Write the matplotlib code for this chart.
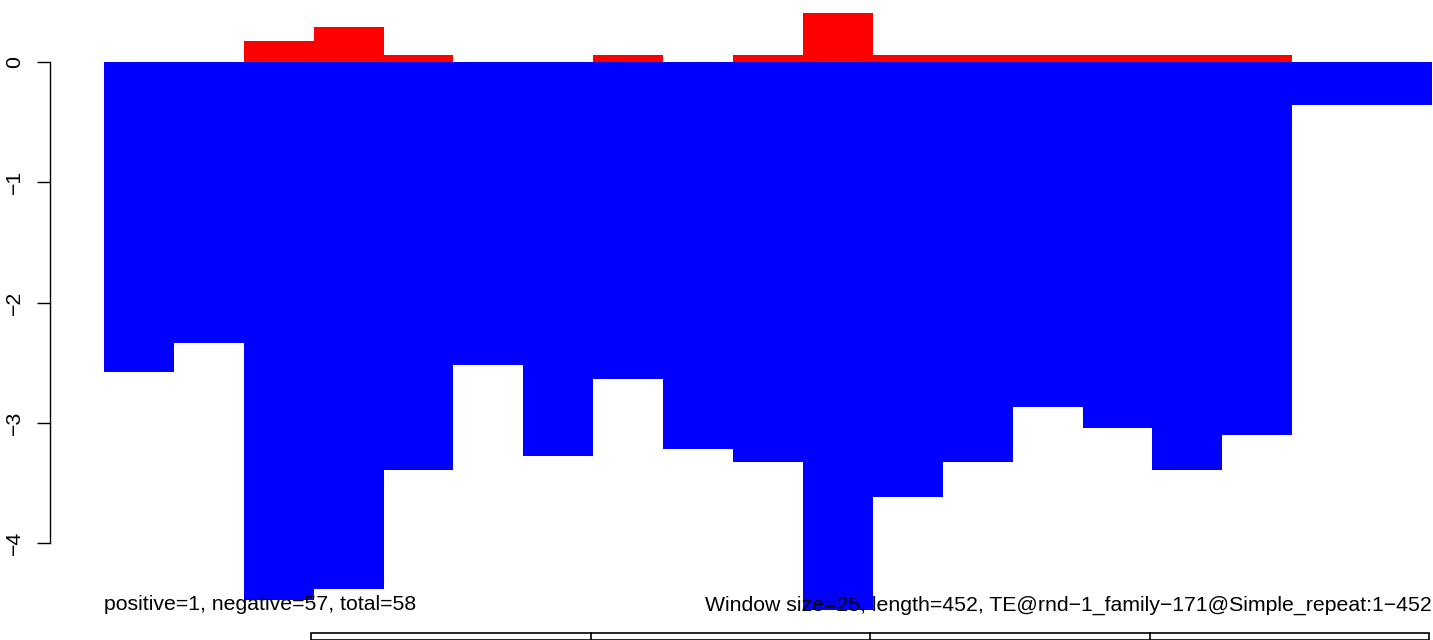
import matplotlib
matplotlib.use("Agg")
import matplotlib.pyplot as plt
from matplotlib.patches import Rectangle
from matplotlib.lines import Line2D

plt.rcParams['font.family'] = ['Liberation Sans', 'DejaVu Sans']

# window scores (one bar per window of 25 bp)
pos_values = [0, 0, 0.175, 0.29, 0.058, 0, 0, 0.058, 0, 0.058, 0.41,
              0.058, 0.058, 0.058, 0.058, 0.058, 0.058, 0, 0]
neg_values = [-2.58, -2.34, -4.47, -4.38, -3.39, -2.52, -3.28, -2.64, -3.22,
              -3.33, -4.56, -3.62, -3.33, -2.87, -3.04, -3.39, -3.10, -0.36, -0.36]
y_ticks = [0, -1, -2, -3, -4]
left_note = "positive=1, negative=57, total=58"
right_note = "Window size=25, length=452, TE@rnd\u22121_family\u2212171@Simple_repeat:1\u2212452"
# feature blocks in the strip below (fraction of the strip)
box_edges = [0, 0.25, 0.5, 0.75, 1.0]

W, H = 1433, 640
FS = 15.3
fig = plt.figure(figsize=(W / 100, H / 100), dpi=100)

# axes placed so that y=0 sits at 62 px and y=-4 at 543 px
px_per_unit = (543 - 62) / 4
ax = fig.add_axes([104 / W, 0, (1432 - 104) / W, 1])
ax.set_ylim(-(H - 62) / px_per_unit, 62 / px_per_unit)
ax.set_xlim(0, len(neg_values))

xs = list(range(len(neg_values)))
ax.bar(xs, pos_values, width=1, align='edge', color='#ff0000', linewidth=0, clip_on=False)
ax.bar(xs, neg_values, width=1, align='edge', color='#0000ff', linewidth=0, clip_on=False)

for s in ['top', 'right', 'bottom']:
    ax.spines[s].set_visible(False)
ax.spines['left'].set_position(('axes', (50 - 104) / (1432 - 104)))
ax.spines['left'].set_bounds(-4, 0)
ax.spines['left'].set_linewidth(1.0)
ax.set_xticks([])
ax.set_yticks(y_ticks)
ax.set_yticklabels([str(t).replace('-', '\u2212') for t in y_ticks],
                   rotation=90, va='center', fontsize=FS)
ax.tick_params(axis='y', length=9.5, width=1.0, pad=9)

fig.text(104 / W, 1 - 605 / H, left_note, ha='left', va='center', fontsize=FS, zorder=5)
fig.text(1432 / W, 1 - 605 / H, right_note, ha='right', va='center', fontsize=FS, zorder=5)

# strip at the bottom
bx0, bx1, by = 311, 1429, 633
fig.add_artist(Rectangle((bx0 / W, 0), (bx1 - bx0) / W, (H - by) / H, transform=fig.transFigure,
                         fill=False, edgecolor='black', linewidth=1.2))
for e in box_edges[1:-1]:
    xe = (bx0 + e * (bx1 - bx0)) / W
    fig.add_artist(Line2D([xe, xe], [0, (H - by) / H], transform=fig.transFigure,
                          color='black', linewidth=1.2))

fig.savefig("out.png", dpi=100)
